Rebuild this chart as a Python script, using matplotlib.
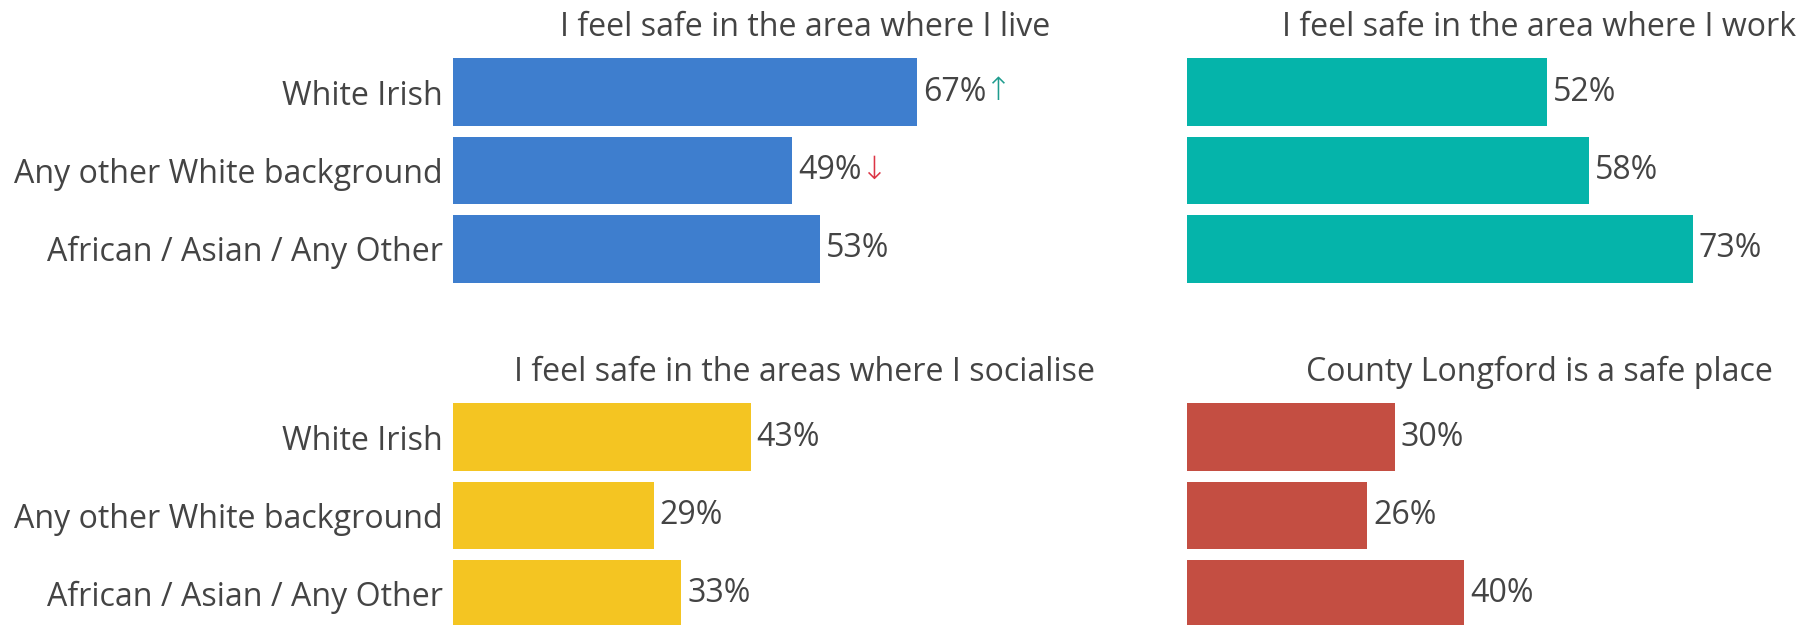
import matplotlib
matplotlib.use("Agg")
import matplotlib.pyplot as plt

# ---- data ----
categories = ["White Irish", "Any other White background", "African / Asian / Any Other"]
titles = [
    "I feel safe in the area where I live",
    "I feel safe in the area where I work",
    "I feel safe in the areas where I socialise",
    "County Longford is a safe place",
]
live = [67, 49, 53]
work = [52, 58, 73]
socialise = [43, 29, 33]
longford = [30, 26, 40]
live_trend = ["up", "down", None]

series = [live, work, socialise, longford]
trends = [live_trend, [None] * 3, [None] * 3, [None] * 3]
colors = ["#3E7ECE", "#05B4AA", "#F4C522", "#C44E42"]
text_color = "#444444"
arrow_colors = {"up": "#1F9C8E", "down": "#DC3545"}
arrow_chars = {"up": "\u2191", "down": "\u2193"}

FS = 23.1
plt.rcParams["font.family"] = ["Open Sans", "DejaVu Sans"]

W, H = 1805, 625
fig = plt.figure(figsize=(W / 100, H / 100), dpi=100)

ax_w = 704.5
ax_h = 235.0
lefts = [452.7, 1187.0]
tops = [53.0, 398.0]

for k in range(4):
    row, col = divmod(k, 2)
    l = lefts[col] / W
    b = 1 - (tops[row] + ax_h) / H
    ax = fig.add_axes([l, b, ax_w / W, ax_h / H])
    vals = series[k]
    y = list(range(len(categories)))
    ax.barh(y, vals, height=0.865, color=colors[k], edgecolor="none")
    ax.set_xlim(0, 101.7)
    ax.set_ylim(2.5, -0.5)
    ax.set_yticks(y)
    if col == 0:
        ax.set_yticklabels(categories, fontsize=FS, color=text_color)
    else:
        ax.set_yticklabels([])
    ax.tick_params(axis="y", length=0, pad=7)
    ax.set_xticks([])
    for s in ax.spines.values():
        s.set_visible(False)
    ax.patch.set_alpha(0)
    ax.text(0.5, 1 + 17 / ax_h, titles[k], transform=ax.transAxes,
            ha="center", va="baseline", fontsize=FS, color=text_color)
    for i, v in enumerate(vals):
        t = ax.annotate(f"{v}%", xy=(v, i), xytext=(4.3, 0), textcoords="offset points",
                        va="center", ha="left", fontsize=FS, color=text_color)
        tr = trends[k][i]
        if tr:
            ax.annotate(arrow_chars[tr], xy=(1, 0.5), xycoords=t, xytext=(-1.5, 0),
                        textcoords="offset points", va="center", ha="left",
                        fontsize=FS, color=arrow_colors[tr], fontweight="light")

fig.savefig("out.png", dpi=100)
